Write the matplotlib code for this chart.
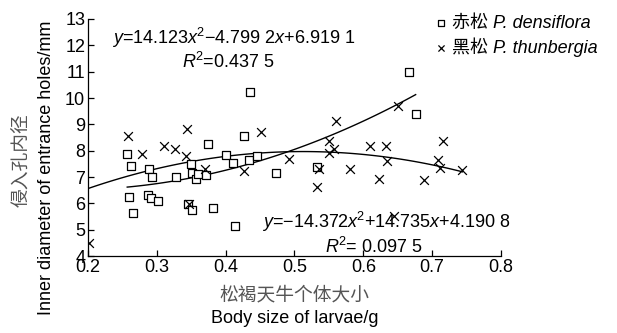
import numpy as np
import matplotlib
matplotlib.use("Agg")
import matplotlib.pyplot as plt

plt.rcParams['font.family'] = ['Liberation Sans', 'Noto Sans CJK SC']
plt.rcParams['mathtext.fontset'] = 'custom'
plt.rcParams['mathtext.rm'] = 'Liberation Sans'
plt.rcParams['mathtext.it'] = 'Liberation Sans:italic'

# --- data ---
# P. densiflora (squares)
dens_x = [0.257, 0.262, 0.289, 0.293, 0.328, 0.350, 0.351, 0.357, 0.360, 0.371,
          0.374, 0.400, 0.410, 0.426, 0.434, 0.445, 0.473, 0.260, 0.287, 0.291,
          0.302, 0.265, 0.346, 0.351, 0.381, 0.413, 0.532, 0.435, 0.667, 0.676]
dens_y = [7.87, 7.41, 7.31, 7.02, 6.99, 7.49, 7.17, 6.92, 7.12, 7.08,
          8.26, 7.84, 7.52, 8.56, 7.65, 7.80, 7.17, 6.25, 6.32, 6.22,
          6.08, 5.63, 5.97, 5.75, 5.84, 5.14, 7.40, 10.21, 10.97, 9.39]
# P. thunbergia (crosses)
thun_x = [0.201, 0.258, 0.278, 0.310, 0.327, 0.344, 0.342, 0.370, 0.347, 0.427,
          0.451, 0.492, 0.532, 0.536, 0.560, 0.550, 0.550, 0.558, 0.580, 0.651,
          0.609, 0.633, 0.635, 0.623, 0.688, 0.716, 0.708, 0.712, 0.744, 0.644]
thun_y = [4.48, 8.56, 7.88, 8.16, 8.07, 8.82, 7.81, 7.31, 5.97, 7.23,
          8.70, 7.69, 6.64, 7.31, 9.12, 8.36, 7.90, 8.07, 7.32, 9.71,
          8.18, 8.18, 7.61, 6.94, 6.87, 8.36, 7.66, 7.36, 7.25, 5.51]

# fitted quadratics (coefficients from the chart)
dens_coef = [14.123, -4.7992, 6.9191]
thun_coef = [-14.372, 14.735, 4.1908]

fs = 13

fig = plt.figure(figsize=(6.17, 3.33), dpi=100)
ax = fig.add_axes([0.1426, 0.231, 0.6694, 0.712])

ax.scatter(dens_x, dens_y, marker='s', s=40, facecolors='white',
           edgecolors='black', linewidths=0.9, zorder=3,
           label='赤松 P. densiflora')
ax.scatter(thun_x, thun_y, marker='x', s=40, color='black',
           linewidths=0.9, zorder=3,
           label='黑松 P. thunbergia')

xd = np.linspace(min(dens_x), max(dens_x), 100)
ax.plot(xd, np.polyval(dens_coef, xd), color='black', lw=1.0, zorder=2)
xt = np.linspace(min(thun_x), max(thun_x), 100)
ax.plot(xt, np.polyval(thun_coef, xt), color='black', lw=1.0, zorder=2)

ax.set_xlim(0.2, 0.8)
ax.set_ylim(4, 13)
ax.set_xticks(np.arange(0.2, 0.81, 0.1))
ax.set_xticklabels(['0.2', '0.3', '0.4', '0.5', '0.6', '0.7', '0.8'])
ax.set_yticks(range(4, 14))
ax.tick_params(direction='in', length=4, width=0.9, labelsize=fs, pad=2)
for s in ['top', 'right']:
    ax.spines[s].set_visible(False)
for s in ['left', 'bottom']:
    ax.spines[s].set_linewidth(0.9)

# equations
ax.text(0.235, 12.29, '$y$=14.123$x$$^{2}$\u22124.799 2$x$+6.919 1',
        fontsize=fs, va='center', ha='left')
ax.text(0.337, 11.38, '$R$$^{2}$=0.437 5', fontsize=fs, va='center', ha='left')
ax.text(0.453, 5.29, '$y$=\u221214.372$x$$^{2}$+14.735$x$+4.190 8',
        fontsize=fs, va='center', ha='left')
ax.text(0.544, 4.34, '$R$$^{2}$= 0.097 5', fontsize=fs, va='center', ha='left')

leg = ax.legend(loc='upper left', bbox_to_anchor=(0.708, 0.955),
                bbox_transform=fig.transFigure, frameon=False,
                prop={'size': fs, 'style': 'italic'},
                handlelength=0.5, handletextpad=0.35,
                labelspacing=0.3, borderpad=0.0, borderaxespad=0.0,
                markerscale=0.7)

# axis labels (two lines each)
fig.text(0.036, 0.52, '侵入孔内径', rotation=90, ha='center', va='center',
         fontsize=13.5, color='#555555', family=['Noto Sans CJK SC'])
fig.text(0.076, 0.495, 'Inner diameter of entrance holes/mm', rotation=90,
         ha='center', va='center', fontsize=fs)
fig.text(0.477, 0.114, '松褐天牛个体大小', ha='center', va='center',
         fontsize=13.5, color='#555555', family=['Noto Sans CJK SC'])
fig.text(0.477, 0.045, 'Body size of larvae/g', ha='center', va='center',
         fontsize=fs)

fig.savefig('out.png', dpi=100)
